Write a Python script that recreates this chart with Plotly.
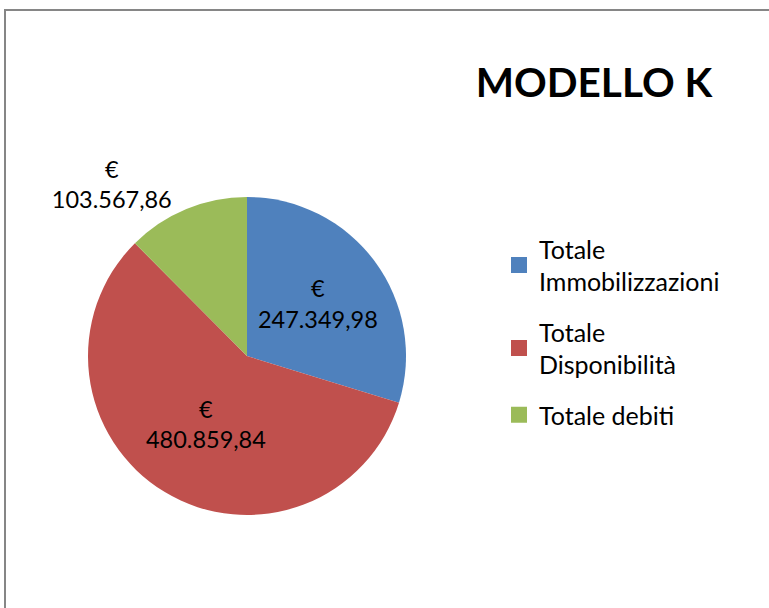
import plotly.graph_objects as go

categories = ["Totale<br>Immobilizzazioni", "Totale<br>Disponibilità", "Totale debiti"]
values = [247349.98, 480859.84, 103567.86]
colors = ["#4F81BD", "#C0504D", "#9BBB59"]
text_positions = ["inside", "inside", "outside"]

W, H = 769, 608
FONT = "Lato"

fig = go.Figure()
fig.add_trace(go.Pie(
    labels=categories,
    values=values,
    sort=False,
    direction="clockwise",
    rotation=0,
    marker=dict(colors=colors, line=dict(width=0)),
    texttemplate="€<br>%{value:,.2f}",
    textposition=text_positions,
    textfont=dict(family=FONT, size=23.5, color="#000000"),
    insidetextorientation="horizontal",
    hoverinfo="label+value",
    showlegend=False,
    domain=dict(x=[(247 - 159) / W, (247 + 159) / W], y=[(252 - 159) / H, (252 + 159) / H]),
))

# legend entries (one per category)
for i, (cat, col) in enumerate(zip(categories, colors)):
    fig.add_trace(go.Scatter(
        x=[None], y=[None], mode="markers", name=cat,
        marker=dict(symbol="square", size=16, color=col),
        legendgroup=f"g{i}", showlegend=True, hoverinfo="skip",
    ))

fig.update_layout(
    width=W, height=H,
    margin=dict(l=0, r=0, t=0, b=0),
    paper_bgcolor="white",
    plot_bgcolor="white",
    separators=",.",
    xaxis=dict(visible=False),
    yaxis=dict(visible=False),
    title=dict(text="<b>MODELLO K</b>", x=594 / W, xanchor="center", y=1 - 83 / H, yanchor="middle",
               font=dict(family=FONT, size=40.5, color="#000000")),
    legend=dict(x=499 / W, xanchor="left", y=1 - 226 / H, yanchor="top",
                font=dict(family=FONT, size=25, color="#000000"),
                bgcolor="rgba(0,0,0,0)", tracegroupgap=15, itemclick=False, itemdoubleclick=False),
    showlegend=True,
    shapes=[dict(type="rect", xref="paper", yref="paper", x0=5 / W, x1=1.02, y0=-0.02, y1=1 - 10 / H,
                 line=dict(color="#868686", width=2), fillcolor="rgba(0,0,0,0)", layer="below")],
)

fig.write_html("out.html", config={"displayModeBar": False},
               post_script="document.body.style.margin='0px';")
